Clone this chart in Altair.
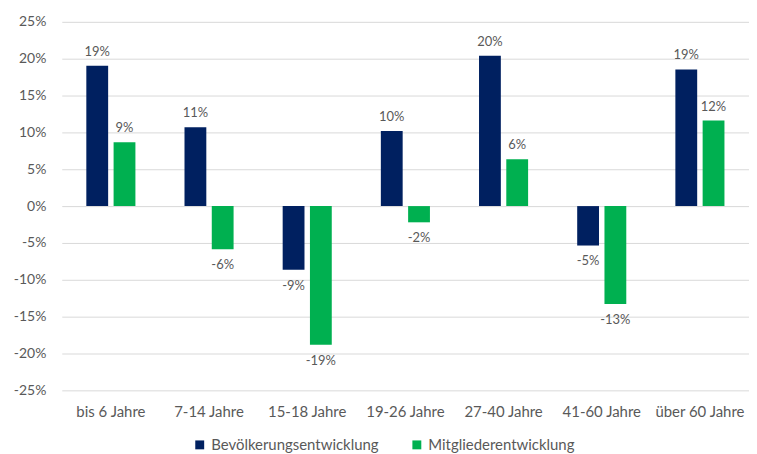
import altair as alt
import pandas as pd

categories = ["bis 6 Jahre", "7-14 Jahre", "15-18 Jahre", "19-26 Jahre", "27-40 Jahre", "41-60 Jahre", "über 60 Jahre"]
series_names = ["Bevölkerungsentwicklung", "Mitgliederentwicklung"]
bevoelkerung = [19.05, 10.7, -8.65, 10.2, 20.4, -5.35, 18.55]
mitglieder = [8.65, -5.85, -18.8, -2.2, 6.35, -13.3, 11.6]
y_ticks = [-25, -20, -15, -10, -5, 0, 5, 10, 15, 20, 25]
colors = ["#002060", "#00B050"]

rows = []
for c, b, m in zip(categories, bevoelkerung, mitglieder):
    rows.append({"cat": c, "series": series_names[0], "value": b})
    rows.append({"cat": c, "series": series_names[1], "value": m})
df = pd.DataFrame(rows)
df["label"] = df["value"].round(0).astype(int).astype(str) + "%"

FONT = "Lato"
GRAY = "#595959"

x = alt.X("cat:N", sort=categories, title=None,
          scale=alt.Scale(paddingInner=0.5, paddingOuter=0.25),
          axis=alt.Axis(labelAngle=0, domain=False, ticks=False, labelPadding=14,
                        labelFontSize=15, labelColor=GRAY, labelFont=FONT, labelOverlap=False))
xo = alt.XOffset("series:N", sort=series_names, scale=alt.Scale(paddingInner=0.2, paddingOuter=0))
y = alt.Y("value:Q", title=None,
          scale=alt.Scale(domain=[-25, 25], nice=False, zero=True),
          axis=alt.Axis(values=y_ticks, tickCount=len(y_ticks) + 5, labelExpr="datum.value + '%'",
                        domain=False, ticks=False,
                        grid=True, gridColor="#D9D9D9", gridWidth=1, labelPadding=16,
                        labelFontSize=14, labelColor=GRAY, labelFont=FONT, labelOverlap=False))

bars = alt.Chart(df).mark_bar().encode(
    x=x, xOffset=xo, y=y,
    color=alt.Color("series:N", sort=series_names, title=None,
                    scale=alt.Scale(domain=series_names, range=colors),
                    legend=alt.Legend(orient="none", legendX=131, legendY=417, direction="horizontal",
                                      symbolType="square", symbolSize=80, symbolStrokeWidth=0,
                                      labelFontSize=15, labelColor=GRAY, labelFont=FONT,
                                      columnPadding=30, labelOffset=4, labelLimit=300)),
)

pos = alt.Chart(df).transform_filter("datum.value >= 0").mark_text(
    dy=-14, fontSize=13, color=GRAY, font=FONT, baseline="middle"
).encode(x=alt.X("cat:N", sort=categories), xOffset=xo, y=alt.Y("value:Q"), text="label:N")

neg = alt.Chart(df).transform_filter("datum.value < 0").mark_text(
    dy=16, fontSize=13, color=GRAY, font=FONT, baseline="middle"
).encode(x=alt.X("cat:N", sort=categories), xOffset=xo, y=alt.Y("value:Q"), text="label:N")

chart = alt.layer(bars, pos, neg).properties(
    width=690, height=370,
    autosize=alt.AutoSizeParams(type="none"),
    padding={"left": 54, "top": 13, "right": 0, "bottom": 62},
).configure_view(stroke=None)

chart.save("out.html", embed_options={"renderer": "svg", "actions": False})
